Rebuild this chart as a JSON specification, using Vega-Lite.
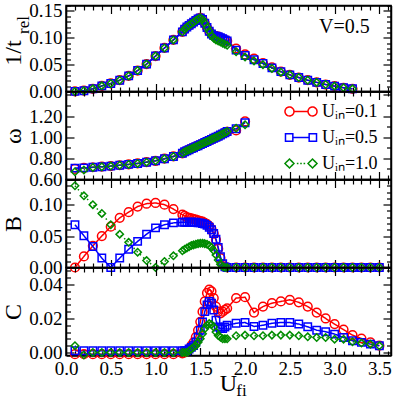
{
"$schema":"https://vega.github.io/schema/vega-lite/v6.json",
"padding":{"left":0,"top":0.5,"right":0,"bottom":20},
"spacing":0,
"bounds":"flush",
"resolve":{"legend":{"color":"independent"}},
"datasets":{"d":[
{"s":"0.1","x":0.1,"a":0.0002,"w":0.700,"b":0.000,"c":-0.001},
{"s":"0.1","x":0.2,"a":0.0015,"w":0.710,"b":0.0176,"c":-0.001},
{"s":"0.1","x":0.3,"a":0.005,"w":0.716,"b":0.0345,"c":-0.001},
{"s":"0.1","x":0.4,"a":0.0105,"w":0.721,"b":0.050,"c":-0.001},
{"s":"0.1","x":0.5,"a":0.015,"w":0.727,"b":0.065,"c":-0.001},
{"s":"0.1","x":0.6,"a":0.021,"w":0.735,"b":0.079,"c":-0.001},
{"s":"0.1","x":0.7,"a":0.029,"w":0.743,"b":0.088,"c":-0.001},
{"s":"0.1","x":0.8,"a":0.039,"w":0.752,"b":0.097,"c":-0.001},
{"s":"0.1","x":0.9,"a":0.051,"w":0.764,"b":0.1016,"c":-0.001},
{"s":"0.1","x":1.0,"a":0.066,"w":0.777,"b":0.1027,"c":-0.001},
{"s":"0.1","x":1.1,"a":0.081,"w":0.797,"b":0.100,"c":-0.001},
{"s":"0.1","x":1.2,"a":0.096,"w":0.818,"b":0.093,"c":-0.001},
{"s":"0.1","x":1.3,"a":0.111,"w":0.848,"b":0.084,"c":-0.0005},
{"s":"0.1","x":1.325,"a":0.116,"w":0.862,"b":0.082,"c":0.000},
{"s":"0.1","x":1.35,"a":0.120,"w":0.872,"b":0.080,"c":0.001},
{"s":"0.1","x":1.375,"a":0.123,"w":0.882,"b":0.079,"c":0.002},
{"s":"0.1","x":1.4,"a":0.126,"w":0.892,"b":0.078,"c":0.004},
{"s":"0.1","x":1.425,"a":0.129,"w":0.901,"b":0.077,"c":0.006},
{"s":"0.1","x":1.45,"a":0.132,"w":0.911,"b":0.076,"c":0.009},
{"s":"0.1","x":1.475,"a":0.135,"w":0.920,"b":0.075,"c":0.013},
{"s":"0.1","x":1.5,"a":0.137,"w":0.930,"b":0.074,"c":0.018},
{"s":"0.1","x":1.525,"a":0.134,"w":0.940,"b":0.073,"c":0.024},
{"s":"0.1","x":1.55,"a":0.127,"w":0.950,"b":0.071,"c":0.030},
{"s":"0.1","x":1.575,"a":0.119,"w":0.960,"b":0.069,"c":0.035},
{"s":"0.1","x":1.6,"a":0.112,"w":0.970,"b":0.066,"c":0.037},
{"s":"0.1","x":1.625,"a":0.107,"w":0.980,"b":0.061,"c":0.036},
{"s":"0.1","x":1.65,"a":0.104,"w":0.990,"b":0.054,"c":0.032},
{"s":"0.1","x":1.675,"a":0.103,"w":1.000,"b":0.044,"c":0.027},
{"s":"0.1","x":1.7,"a":0.102,"w":1.010,"b":0.030,"c":0.024},
{"s":"0.1","x":1.725,"a":0.100,"w":1.021,"b":0.015,"c":0.023},
{"s":"0.1","x":1.75,"a":0.098,"w":1.032,"b":0.005,"c":0.024},
{"s":"0.1","x":1.775,"a":0.096,"w":1.043,"b":0.001,"c":0.025},
{"s":"0.1","x":1.8,"a":0.094,"w":1.054,"b":0.000,"c":0.026},
{"s":"0.1","x":1.9,"a":0.080,"w":1.065,"b":0,"c":0.032},
{"s":"0.1","x":2.0,"a":0.069,"w":1.150,"b":0,"c":0.0325},
{"s":"0.1","x":2.1,"a":0.061,"w":null,"b":0,"c":0.0235},
{"s":"0.1","x":2.2,"a":0.053,"w":null,"b":0,"c":0.027},
{"s":"0.1","x":2.3,"a":0.045,"w":null,"b":0,"c":0.029},
{"s":"0.1","x":2.4,"a":0.037,"w":null,"b":0,"c":0.030},
{"s":"0.1","x":2.5,"a":0.031,"w":null,"b":0,"c":0.031},
{"s":"0.1","x":2.6,"a":0.026,"w":null,"b":0,"c":0.0295},
{"s":"0.1","x":2.7,"a":0.021,"w":null,"b":0,"c":0.027},
{"s":"0.1","x":2.8,"a":0.017,"w":null,"b":0,"c":0.0235},
{"s":"0.1","x":2.9,"a":0.013,"w":null,"b":0,"c":0.020},
{"s":"0.1","x":3.0,"a":0.010,"w":null,"b":0,"c":0.0167},
{"s":"0.1","x":3.1,"a":0.007,"w":null,"b":0,"c":0.0134},
{"s":"0.1","x":3.2,"a":0.005,"w":null,"b":0,"c":0.0102},
{"s":"0.1","x":3.3,"a":null,"w":null,"b":0,"c":0.0082},
{"s":"0.1","x":3.4,"a":null,"w":null,"b":0,"c":0.006},
{"s":"0.1","x":3.5,"a":null,"w":null,"b":0,"c":0.004},
{"s":"0.5","x":0.1,"a":0.0002,"w":0.708,"b":0.068,"c":0.001},
{"s":"0.5","x":0.2,"a":0.0015,"w":0.710,"b":0.0505,"c":0.001},
{"s":"0.5","x":0.3,"a":0.005,"w":0.716,"b":0.0335,"c":0.001},
{"s":"0.5","x":0.4,"a":0.0105,"w":0.721,"b":0.015,"c":0.001},
{"s":"0.5","x":0.5,"a":0.015,"w":0.727,"b":0.000,"c":0.001},
{"s":"0.5","x":0.6,"a":0.021,"w":0.735,"b":0.015,"c":0.001},
{"s":"0.5","x":0.7,"a":0.029,"w":0.743,"b":0.029,"c":0.001},
{"s":"0.5","x":0.8,"a":0.039,"w":0.752,"b":0.0415,"c":0.001},
{"s":"0.5","x":0.9,"a":0.051,"w":0.764,"b":0.053,"c":0.001},
{"s":"0.5","x":1.0,"a":0.066,"w":0.777,"b":0.063,"c":0.001},
{"s":"0.5","x":1.1,"a":0.081,"w":0.797,"b":0.068,"c":0.001},
{"s":"0.5","x":1.2,"a":0.096,"w":0.818,"b":0.071,"c":0.001},
{"s":"0.5","x":1.3,"a":0.111,"w":0.848,"b":0.072,"c":0.001},
{"s":"0.5","x":1.325,"a":0.116,"w":0.862,"b":0.072,"c":0.001},
{"s":"0.5","x":1.35,"a":0.120,"w":0.872,"b":0.072,"c":0.001},
{"s":"0.5","x":1.375,"a":0.123,"w":0.882,"b":0.072,"c":0.002},
{"s":"0.5","x":1.4,"a":0.126,"w":0.892,"b":0.072,"c":0.003},
{"s":"0.5","x":1.425,"a":0.129,"w":0.901,"b":0.072,"c":0.004},
{"s":"0.5","x":1.45,"a":0.132,"w":0.911,"b":0.072,"c":0.006},
{"s":"0.5","x":1.475,"a":0.135,"w":0.920,"b":0.071,"c":0.009},
{"s":"0.5","x":1.5,"a":0.137,"w":0.930,"b":0.071,"c":0.013},
{"s":"0.5","x":1.525,"a":0.134,"w":0.940,"b":0.070,"c":0.018},
{"s":"0.5","x":1.55,"a":0.127,"w":0.950,"b":0.069,"c":0.024},
{"s":"0.5","x":1.575,"a":0.119,"w":0.960,"b":0.067,"c":0.028},
{"s":"0.5","x":1.6,"a":0.112,"w":0.970,"b":0.064,"c":0.030},
{"s":"0.5","x":1.625,"a":0.107,"w":0.980,"b":0.060,"c":0.029},
{"s":"0.5","x":1.65,"a":0.104,"w":0.990,"b":0.054,"c":0.025},
{"s":"0.5","x":1.675,"a":0.103,"w":1.000,"b":0.045,"c":0.019},
{"s":"0.5","x":1.7,"a":0.102,"w":1.010,"b":0.032,"c":0.015},
{"s":"0.5","x":1.725,"a":0.100,"w":1.021,"b":0.017,"c":0.014},
{"s":"0.5","x":1.75,"a":0.098,"w":1.032,"b":0.006,"c":0.014},
{"s":"0.5","x":1.775,"a":0.096,"w":1.043,"b":0.001,"c":0.015},
{"s":"0.5","x":1.8,"a":0.094,"w":1.054,"b":0.000,"c":0.016},
{"s":"0.5","x":1.9,"a":0.077,"w":1.080,"b":0,"c":0.0172},
{"s":"0.5","x":2.0,"a":0.067,"w":1.137,"b":0,"c":0.0176},
{"s":"0.5","x":2.1,"a":0.059,"w":null,"b":0,"c":0.0153},
{"s":"0.5","x":2.2,"a":0.052,"w":null,"b":0,"c":0.016},
{"s":"0.5","x":2.3,"a":0.044,"w":null,"b":0,"c":0.0172},
{"s":"0.5","x":2.4,"a":0.037,"w":null,"b":0,"c":0.0176},
{"s":"0.5","x":2.5,"a":0.031,"w":null,"b":0,"c":0.0176},
{"s":"0.5","x":2.6,"a":0.026,"w":null,"b":0,"c":0.0167},
{"s":"0.5","x":2.7,"a":0.021,"w":null,"b":0,"c":0.0151},
{"s":"0.5","x":2.8,"a":0.017,"w":null,"b":0,"c":0.0131},
{"s":"0.5","x":2.9,"a":0.013,"w":null,"b":0,"c":0.0122},
{"s":"0.5","x":3.0,"a":0.010,"w":null,"b":0,"c":0.0108},
{"s":"0.5","x":3.1,"a":0.007,"w":null,"b":0,"c":0.0088},
{"s":"0.5","x":3.2,"a":0.005,"w":null,"b":0,"c":0.0069},
{"s":"0.5","x":3.3,"a":null,"w":null,"b":0,"c":0.0059},
{"s":"0.5","x":3.4,"a":null,"w":null,"b":0,"c":0.0049},
{"s":"0.5","x":3.5,"a":null,"w":null,"b":0,"c":0.0039},
{"s":"1.0","x":0.1,"a":0.0002,"w":0.673,"b":0.130,"c":0.004},
{"s":"1.0","x":0.2,"a":0.0015,"w":0.690,"b":0.114,"c":-0.0015},
{"s":"1.0","x":0.3,"a":0.005,"w":0.714,"b":0.100,"c":0},
{"s":"1.0","x":0.4,"a":0.0105,"w":0.721,"b":0.086,"c":0},
{"s":"1.0","x":0.5,"a":0.015,"w":0.727,"b":0.068,"c":0},
{"s":"1.0","x":0.6,"a":0.021,"w":0.735,"b":0.053,"c":0},
{"s":"1.0","x":0.7,"a":0.029,"w":0.743,"b":0.040,"c":0},
{"s":"1.0","x":0.8,"a":0.039,"w":0.752,"b":0.0244,"c":0},
{"s":"1.0","x":0.9,"a":0.051,"w":0.764,"b":0.011,"c":0},
{"s":"1.0","x":1.0,"a":0.066,"w":0.777,"b":0.000,"c":0},
{"s":"1.0","x":1.1,"a":0.081,"w":0.797,"b":0.0096,"c":0},
{"s":"1.0","x":1.2,"a":0.096,"w":0.818,"b":0.0186,"c":0},
{"s":"1.0","x":1.3,"a":0.111,"w":0.848,"b":0.0265,"c":0},
{"s":"1.0","x":1.325,"a":0.116,"w":0.862,"b":0.029,"c":0.000},
{"s":"1.0","x":1.35,"a":0.120,"w":0.872,"b":0.031,"c":0.000},
{"s":"1.0","x":1.375,"a":0.123,"w":0.882,"b":0.033,"c":0.001},
{"s":"1.0","x":1.4,"a":0.126,"w":0.892,"b":0.035,"c":0.002},
{"s":"1.0","x":1.425,"a":0.129,"w":0.901,"b":0.036,"c":0.003},
{"s":"1.0","x":1.45,"a":0.132,"w":0.911,"b":0.037,"c":0.004},
{"s":"1.0","x":1.475,"a":0.135,"w":0.920,"b":0.038,"c":0.006},
{"s":"1.0","x":1.5,"a":0.137,"w":0.930,"b":0.0385,"c":0.008},
{"s":"1.0","x":1.525,"a":0.134,"w":0.940,"b":0.0385,"c":0.011},
{"s":"1.0","x":1.55,"a":0.127,"w":0.950,"b":0.038,"c":0.014},
{"s":"1.0","x":1.575,"a":0.119,"w":0.960,"b":0.037,"c":0.016},
{"s":"1.0","x":1.6,"a":0.112,"w":0.970,"b":0.035,"c":0.017},
{"s":"1.0","x":1.625,"a":0.104,"w":0.980,"b":0.032,"c":0.0165},
{"s":"1.0","x":1.65,"a":0.099,"w":0.990,"b":0.027,"c":0.015},
{"s":"1.0","x":1.675,"a":0.096,"w":1.000,"b":0.020,"c":0.012},
{"s":"1.0","x":1.7,"a":0.094,"w":1.010,"b":0.012,"c":0.010},
{"s":"1.0","x":1.725,"a":0.092,"w":1.021,"b":0.005,"c":0.009},
{"s":"1.0","x":1.75,"a":0.090,"w":1.032,"b":0.0015,"c":0.008},
{"s":"1.0","x":1.775,"a":0.088,"w":1.043,"b":0.000,"c":0.008},
{"s":"1.0","x":1.8,"a":0.086,"w":1.054,"b":0.000,"c":0.008},
{"s":"1.0","x":1.9,"a":0.074,"w":1.085,"b":0,"c":0.0098},
{"s":"1.0","x":2.0,"a":0.064,"w":1.118,"b":0,"c":0.0102},
{"s":"1.0","x":2.1,"a":0.057,"w":null,"b":0,"c":0.0098},
{"s":"1.0","x":2.2,"a":0.050,"w":null,"b":0,"c":0.0098},
{"s":"1.0","x":2.3,"a":0.043,"w":null,"b":0,"c":0.0102},
{"s":"1.0","x":2.4,"a":0.036,"w":null,"b":0,"c":0.0102},
{"s":"1.0","x":2.5,"a":0.031,"w":null,"b":0,"c":0.0102},
{"s":"1.0","x":2.6,"a":0.026,"w":null,"b":0,"c":0.0098},
{"s":"1.0","x":2.7,"a":0.021,"w":null,"b":0,"c":0.0092},
{"s":"1.0","x":2.8,"a":0.017,"w":null,"b":0,"c":0.0088},
{"s":"1.0","x":2.9,"a":0.013,"w":null,"b":0,"c":0.0088},
{"s":"1.0","x":3.0,"a":0.010,"w":null,"b":0,"c":0.0078},
{"s":"1.0","x":3.1,"a":0.007,"w":null,"b":0,"c":0.0078},
{"s":"1.0","x":3.2,"a":0.005,"w":null,"b":0,"c":0.0063},
{"s":"1.0","x":3.3,"a":null,"w":null,"b":0,"c":0.0055},
{"s":"1.0","x":3.4,"a":null,"w":null,"b":0,"c":0.0049},
{"s":"1.0","x":3.5,"a":null,"w":null,"b":0,"c":0.0039}
]},
"vconcat":[
{
 "width":325,"height":86,
 "data":{"name":"d"},
 "resolve":{"axis":{"x":"independent","y":"independent"}},
 "layer":[
  {"transform":[{"filter":"isValid(datum.a)"}],
   "mark":{"type":"line","strokeWidth":1.5},
   "encoding":{
    "x":{"field":"x","type":"quantitative","scale":{"domain":[0,3.63],"nice":false,"zero":false},"axis":{"orient":"bottom","values":[0,0.5,1,1.5,2,2.5,3,3.5],"tickSize":-8,"labels":false,"title":null}},
    "y":{"field":"a","type":"quantitative","scale":{"domain":[0,0.16],"nice":false,"zero":false},"axis":{"orient":"left","values":[0,0.05,0.1,0.15],"tickSize":-8,"labelPadding":12,"format":".2f","title":"1/t","titleFontSize":24,"titleAngle":270,"titleX":-46,"titleY":47,"titleAlign":"center","titleBaseline":"alphabetic"}},
    "color":{"field":"s","type":"nominal","scale":{"domain":["0.1","0.5","1.0"],"range":["#ff0000","#0000ff","#008c00"]},"legend":null},
    "strokeDash":{"field":"s","type":"nominal","scale":{"domain":["0.1","0.5","1.0"],"range":[[1,0],[1,0],[1.5,3]]},"legend":null}
   }},
  {"transform":[{"filter":"isValid(datum.a)"}],
   "mark":{"type":"point","filled":false,"strokeWidth":1.5,"size":76,"opacity":1},
   "encoding":{
    "x":{"field":"x","type":"quantitative","scale":{"domain":[0,3.63],"nice":false,"zero":false},"axis":null},
    "y":{"field":"a","type":"quantitative","scale":{"domain":[0,0.16],"nice":false,"zero":false},"axis":null},
    "color":{"field":"s","type":"nominal","scale":{"domain":["0.1","0.5","1.0"],"range":["#ff0000","#0000ff","#008c00"]},"legend":null},
    "shape":{"field":"s","type":"nominal","scale":{"domain":["0.1","0.5","1.0"],"range":["circle","M-0.85,-0.85H0.85V0.85H-0.85Z","M0,-0.85L0.85,0L0,0.85L-0.85,0Z"]},"legend":null}
   }},
  {"transform":[{"filter":"isValid(datum.a)"}],
   "mark":{"type":"point","opacity":0},
   "encoding":{
    "x":{"field":"x","type":"quantitative","scale":{"domain":[0,3.63],"nice":false,"zero":false},"axis":{"orient":"top","values":[0,0.5,1,1.5,2,2.5,3,3.5],"tickSize":-8,"labels":false,"title":null}},
    "y":{"field":"a","type":"quantitative","scale":{"domain":[0,0.16],"nice":false,"zero":false},"axis":{"orient":"right","values":[0,0.05,0.1,0.15],"tickSize":-8,"labels":false,"title":null}}
   }},
  {"transform":[{"filter":"isValid(datum.a)"}],
   "mark":{"type":"point","opacity":0},
   "encoding":{
    "x":{"field":"x","type":"quantitative","scale":{"domain":[0,3.63],"nice":false,"zero":false},"axis":{"orient":"bottom","values":[0.1,0.2,0.3,0.4,0.6,0.7,0.8,0.9,1.1,1.2,1.3,1.4,1.6,1.7,1.8,1.9,2.1,2.2,2.3,2.4,2.6,2.7,2.8,2.9,3.1,3.2,3.3,3.4,3.6],"tickSize":-4.5,"labels":false,"domain":false,"title":null}},
    "y":{"field":"a","type":"quantitative","scale":{"domain":[0,0.16],"nice":false,"zero":false},"axis":{"orient":"left","values":[0.01,0.02,0.03,0.04,0.06,0.07,0.08,0.09,0.11,0.12,0.13,0.14,0.16],"tickSize":-4.5,"labels":false,"domain":false,"title":"rel","titleFontSize":17,"titleAngle":270,"titleX":-37.5,"titleY":19,"titleAlign":"center","titleBaseline":"alphabetic"}}
   }},
  {"transform":[{"filter":"isValid(datum.a)"}],
   "mark":{"type":"point","opacity":0},
   "encoding":{
    "x":{"field":"x","type":"quantitative","scale":{"domain":[0,3.63],"nice":false,"zero":false},"axis":{"orient":"top","values":[0.1,0.2,0.3,0.4,0.6,0.7,0.8,0.9,1.1,1.2,1.3,1.4,1.6,1.7,1.8,1.9,2.1,2.2,2.3,2.4,2.6,2.7,2.8,2.9,3.1,3.2,3.3,3.4,3.6],"tickSize":-4.5,"labels":false,"domain":false,"title":null}},
    "y":{"field":"a","type":"quantitative","scale":{"domain":[0,0.16],"nice":false,"zero":false},"axis":{"orient":"right","values":[0.01,0.02,0.03,0.04,0.06,0.07,0.08,0.09,0.11,0.12,0.13,0.14,0.16],"tickSize":-4.5,"labels":false,"domain":false,"title":null}}
   }},
  {"data":{"values":[{"t":"V=0.5"}]},
   "mark":{"type":"text","fontSize":20,"font":"Liberation Serif","align":"center","baseline":"alphabetic","color":"black"},
   "encoding":{
    "text":{"field":"t"},
    "x":{"datum":3.11,"type":"quantitative","scale":{"domain":[0,3.63],"nice":false,"zero":false},"axis":null},
    "y":{"datum":0.109,"type":"quantitative","scale":{"domain":[0,0.16],"nice":false,"zero":false},"axis":null}
   }}
 ]
},
{
 "width":325,"height":88,
 "data":{"name":"d"},
 "resolve":{"axis":{"x":"independent","y":"independent"}},
 "layer":[
  {"transform":[{"filter":"isValid(datum.w)"}],
   "mark":{"type":"line","strokeWidth":1.5},
   "encoding":{
    "x":{"field":"x","type":"quantitative","scale":{"domain":[0,3.63],"nice":false,"zero":false},"axis":{"orient":"bottom","values":[0,0.5,1,1.5,2,2.5,3,3.5],"tickSize":-8,"labels":false,"title":null}},
    "y":{"field":"w","type":"quantitative","scale":{"domain":[0.6,1.433],"nice":false,"zero":false},"axis":{"orient":"left","values":[0.6,0.8,1.0,1.2],"tickSize":-8,"labelPadding":12,"format":".2f","title":"ω","titleFontSize":24,"titleAngle":270,"titleX":-46,"titleY":44,"titleAlign":"center","titleBaseline":"alphabetic"}},
    "color":{"field":"s","type":"nominal","scale":{"domain":["0.1","0.5","1.0"],"range":["#ff0000","#0000ff","#008c00"]},
      "legend":{"orient":"none","legendX":218,"legendY":3,"title":null,"direction":"vertical",
        "labelExpr":"'Uᵢₙ=' + datum.label","labelFont":"Liberation Serif","labelFontSize":18,"labelColor":"black",
        "symbolSize":1024,"symbolStrokeWidth":1.5,"rowPadding":-9,"labelOffset":4,"padding":0,
        "encode":{"symbols":{"update":{"shape":{"signal":"datum.value === '0.1' ? 'M-1,0A0.28,0.28 0 1,0 -0.44,0A0.28,0.28 0 1,0 -1,0ZM-0.44,0L0.44,0M0.44,0A0.28,0.28 0 1,0 1,0A0.28,0.28 0 1,0 0.44,0Z' : datum.value === '0.5' ? 'M-0.97,-0.23H-0.51V0.23H-0.97ZM-0.51,0H0.51M0.51,-0.23H0.97V0.23H0.51Z' : 'M-1,0L-0.72,-0.28L-0.44,0L-0.72,0.28ZM0.44,0L0.72,-0.28L1,0L0.72,0.28ZM-0.26,0H-0.16M-0.05,0H0.05M0.16,0H0.26'"},"fill":{"value":"transparent"},"strokeDash":{"value":[1,0]}}}}}},
    "strokeDash":{"field":"s","type":"nominal","scale":{"domain":["0.1","0.5","1.0"],"range":[[1,0],[1,0],[1.5,3]]},"legend":null}
   }},
  {"transform":[{"filter":"isValid(datum.w)"}],
   "mark":{"type":"point","filled":false,"strokeWidth":1.5,"size":76,"opacity":1},
   "encoding":{
    "x":{"field":"x","type":"quantitative","scale":{"domain":[0,3.63],"nice":false,"zero":false},"axis":null},
    "y":{"field":"w","type":"quantitative","scale":{"domain":[0.6,1.433],"nice":false,"zero":false},"axis":null},
    "color":{"field":"s","type":"nominal","scale":{"domain":["0.1","0.5","1.0"],"range":["#ff0000","#0000ff","#008c00"]},"legend":null},
    "shape":{"field":"s","type":"nominal","scale":{"domain":["0.1","0.5","1.0"],"range":["circle","M-0.85,-0.85H0.85V0.85H-0.85Z","M0,-0.85L0.85,0L0,0.85L-0.85,0Z"]},"legend":null}
   }},
  {"transform":[{"filter":"isValid(datum.w)"}],
   "mark":{"type":"point","opacity":0},
   "encoding":{
    "x":{"field":"x","type":"quantitative","scale":{"domain":[0,3.63],"nice":false,"zero":false},"axis":{"orient":"top","values":[0,0.5,1,1.5,2,2.5,3,3.5],"tickSize":-8,"labels":false,"title":null}},
    "y":{"field":"w","type":"quantitative","scale":{"domain":[0.6,1.433],"nice":false,"zero":false},"axis":{"orient":"right","values":[0.6,0.8,1.0,1.2,1.4],"tickSize":-8,"labels":false,"title":null}}
   }},
  {"transform":[{"filter":"isValid(datum.w)"}],
   "mark":{"type":"point","opacity":0},
   "encoding":{
    "x":{"field":"x","type":"quantitative","scale":{"domain":[0,3.63],"nice":false,"zero":false},"axis":{"orient":"bottom","values":[0.1,0.2,0.3,0.4,0.6,0.7,0.8,0.9,1.1,1.2,1.3,1.4,1.6,1.7,1.8,1.9,2.1,2.2,2.3,2.4,2.6,2.7,2.8,2.9,3.1,3.2,3.3,3.4,3.6],"tickSize":-4.5,"labels":false,"domain":false,"title":null}},
    "y":{"field":"w","type":"quantitative","scale":{"domain":[0.6,1.433],"nice":false,"zero":false},"axis":{"orient":"left","values":[0.7,0.9,1.1,1.3,1.4],"tickSize":-4.5,"labels":false,"domain":false,"title":null}}
   }},
  {"transform":[{"filter":"isValid(datum.w)"}],
   "mark":{"type":"point","opacity":0},
   "encoding":{
    "x":{"field":"x","type":"quantitative","scale":{"domain":[0,3.63],"nice":false,"zero":false},"axis":{"orient":"top","values":[0.1,0.2,0.3,0.4,0.6,0.7,0.8,0.9,1.1,1.2,1.3,1.4,1.6,1.7,1.8,1.9,2.1,2.2,2.3,2.4,2.6,2.7,2.8,2.9,3.1,3.2,3.3,3.4,3.6],"tickSize":-4.5,"labels":false,"domain":false,"title":null}},
    "y":{"field":"w","type":"quantitative","scale":{"domain":[0.6,1.433],"nice":false,"zero":false},"axis":{"orient":"right","values":[0.7,0.9,1.1,1.3],"tickSize":-4.5,"labels":false,"domain":false,"title":null}}
   }}
 ]
},
{
 "width":325,"height":88,
 "data":{"name":"d"},
 "resolve":{"axis":{"x":"independent","y":"independent"}},
 "layer":[
  {"transform":[{"filter":"isValid(datum.b)"}],
   "mark":{"type":"line","strokeWidth":1.5},
   "encoding":{
    "x":{"field":"x","type":"quantitative","scale":{"domain":[0,3.63],"nice":false,"zero":false},"axis":{"orient":"bottom","values":[0,0.5,1,1.5,2,2.5,3,3.5],"tickSize":-8,"labels":false,"title":null}},
    "y":{"field":"b","type":"quantitative","scale":{"domain":[0,0.14],"nice":false,"zero":false},"axis":{"orient":"left","values":[0,0.05,0.1],"tickSize":-8,"labelPadding":12,"format":".2f","title":"B","titleFontSize":24,"titleAngle":270,"titleX":-46,"titleY":44,"titleAlign":"center","titleBaseline":"alphabetic"}},
    "color":{"field":"s","type":"nominal","scale":{"domain":["0.1","0.5","1.0"],"range":["#ff0000","#0000ff","#008c00"]},"legend":null},
    "strokeDash":{"field":"s","type":"nominal","scale":{"domain":["0.1","0.5","1.0"],"range":[[1,0],[1,0],[1.5,3]]},"legend":null}
   }},
  {"transform":[{"filter":"isValid(datum.b)"}],
   "mark":{"type":"point","filled":false,"strokeWidth":1.5,"size":76,"opacity":1},
   "encoding":{
    "x":{"field":"x","type":"quantitative","scale":{"domain":[0,3.63],"nice":false,"zero":false},"axis":null},
    "y":{"field":"b","type":"quantitative","scale":{"domain":[0,0.14],"nice":false,"zero":false},"axis":null},
    "color":{"field":"s","type":"nominal","scale":{"domain":["0.1","0.5","1.0"],"range":["#ff0000","#0000ff","#008c00"]},"legend":null},
    "shape":{"field":"s","type":"nominal","scale":{"domain":["0.1","0.5","1.0"],"range":["circle","M-0.85,-0.85H0.85V0.85H-0.85Z","M0,-0.85L0.85,0L0,0.85L-0.85,0Z"]},"legend":null}
   }},
  {"transform":[{"filter":"isValid(datum.b)"}],
   "mark":{"type":"point","opacity":0},
   "encoding":{
    "x":{"field":"x","type":"quantitative","scale":{"domain":[0,3.63],"nice":false,"zero":false},"axis":{"orient":"top","values":[0,0.5,1,1.5,2,2.5,3,3.5],"tickSize":-8,"labels":false,"title":null}},
    "y":{"field":"b","type":"quantitative","scale":{"domain":[0,0.14],"nice":false,"zero":false},"axis":{"orient":"right","values":[0,0.05,0.1],"tickSize":-8,"labels":false,"title":null}}
   }},
  {"transform":[{"filter":"isValid(datum.b)"}],
   "mark":{"type":"point","opacity":0},
   "encoding":{
    "x":{"field":"x","type":"quantitative","scale":{"domain":[0,3.63],"nice":false,"zero":false},"axis":{"orient":"bottom","values":[0.1,0.2,0.3,0.4,0.6,0.7,0.8,0.9,1.1,1.2,1.3,1.4,1.6,1.7,1.8,1.9,2.1,2.2,2.3,2.4,2.6,2.7,2.8,2.9,3.1,3.2,3.3,3.4,3.6],"tickSize":-4.5,"labels":false,"domain":false,"title":null}},
    "y":{"field":"b","type":"quantitative","scale":{"domain":[0,0.14],"nice":false,"zero":false},"axis":{"orient":"left","values":[0.01,0.02,0.03,0.04,0.06,0.07,0.08,0.09,0.11,0.12,0.13],"tickSize":-4.5,"labels":false,"domain":false,"title":null}}
   }},
  {"transform":[{"filter":"isValid(datum.b)"}],
   "mark":{"type":"point","opacity":0},
   "encoding":{
    "x":{"field":"x","type":"quantitative","scale":{"domain":[0,3.63],"nice":false,"zero":false},"axis":{"orient":"top","values":[0.1,0.2,0.3,0.4,0.6,0.7,0.8,0.9,1.1,1.2,1.3,1.4,1.6,1.7,1.8,1.9,2.1,2.2,2.3,2.4,2.6,2.7,2.8,2.9,3.1,3.2,3.3,3.4,3.6],"tickSize":-4.5,"labels":false,"domain":false,"title":null}},
    "y":{"field":"b","type":"quantitative","scale":{"domain":[0,0.14],"nice":false,"zero":false},"axis":{"orient":"right","values":[0.01,0.02,0.03,0.04,0.06,0.07,0.08,0.09,0.11,0.12,0.13],"tickSize":-4.5,"labels":false,"domain":false,"title":null}}
   }}
 ]
},
{
 "width":325,"height":88,
 "data":{"name":"d"},
 "resolve":{"axis":{"x":"independent","y":"independent"}},
 "layer":[
  {"transform":[{"filter":"isValid(datum.c)"}],
   "mark":{"type":"line","strokeWidth":1.5},
   "encoding":{
    "x":{"field":"x","type":"quantitative","scale":{"domain":[0,3.63],"nice":false,"zero":false},"axis":{"orient":"bottom","values":[0,0.5,1,1.5,2,2.5,3,3.5],"tickSize":-8,"labelPadding":12,"format":".1f","title":"U","titleFontSize":24,"titleX":162,"titleY":34.5,"titleAlign":"center","titleBaseline":"alphabetic","titleAngle":0}},
    "y":{"field":"c","type":"quantitative","scale":{"domain":[-0.0018,0.05],"nice":false,"zero":false},"axis":{"orient":"left","values":[0,0.02,0.04],"tickSize":-8,"labelPadding":12,"format":".2f","title":"C","titleFontSize":24,"titleAngle":270,"titleX":-46,"titleY":44,"titleAlign":"center","titleBaseline":"alphabetic"}},
    "color":{"field":"s","type":"nominal","scale":{"domain":["0.1","0.5","1.0"],"range":["#ff0000","#0000ff","#008c00"]},"legend":null},
    "strokeDash":{"field":"s","type":"nominal","scale":{"domain":["0.1","0.5","1.0"],"range":[[1,0],[1,0],[1.5,3]]},"legend":null}
   }},
  {"transform":[{"filter":"isValid(datum.c)"}],
   "mark":{"type":"point","filled":false,"strokeWidth":1.5,"size":76,"opacity":1},
   "encoding":{
    "x":{"field":"x","type":"quantitative","scale":{"domain":[0,3.63],"nice":false,"zero":false},"axis":null},
    "y":{"field":"c","type":"quantitative","scale":{"domain":[-0.0018,0.05],"nice":false,"zero":false},"axis":null},
    "color":{"field":"s","type":"nominal","scale":{"domain":["0.1","0.5","1.0"],"range":["#ff0000","#0000ff","#008c00"]},"legend":null},
    "shape":{"field":"s","type":"nominal","scale":{"domain":["0.1","0.5","1.0"],"range":["circle","M-0.85,-0.85H0.85V0.85H-0.85Z","M0,-0.85L0.85,0L0,0.85L-0.85,0Z"]},"legend":null}
   }},
  {"transform":[{"filter":"isValid(datum.c)"}],
   "mark":{"type":"point","opacity":0},
   "encoding":{
    "x":{"field":"x","type":"quantitative","scale":{"domain":[0,3.63],"nice":false,"zero":false},"axis":{"orient":"top","values":[0,0.5,1,1.5,2,2.5,3,3.5],"tickSize":-8,"labels":false,"title":null}},
    "y":{"field":"c","type":"quantitative","scale":{"domain":[-0.0018,0.05],"nice":false,"zero":false},"axis":{"orient":"right","values":[0,0.02,0.04],"tickSize":-8,"labels":false,"title":null}}
   }},
  {"transform":[{"filter":"isValid(datum.c)"}],
   "mark":{"type":"point","opacity":0},
   "encoding":{
    "x":{"field":"x","type":"quantitative","scale":{"domain":[0,3.63],"nice":false,"zero":false},"axis":{"orient":"bottom","values":[0.1,0.2,0.3,0.4,0.6,0.7,0.8,0.9,1.1,1.2,1.3,1.4,1.6,1.7,1.8,1.9,2.1,2.2,2.3,2.4,2.6,2.7,2.8,2.9,3.1,3.2,3.3,3.4,3.6],"tickSize":-4.5,"labels":false,"domain":false,"title":"fi","titleFontSize":17,"titleX":175,"titleY":39.5,"titleAlign":"center","titleBaseline":"alphabetic","titleAngle":0}},
    "y":{"field":"c","type":"quantitative","scale":{"domain":[-0.0018,0.05],"nice":false,"zero":false},"axis":{"orient":"left","values":[0.004,0.008,0.012,0.016,0.024,0.028,0.032,0.036,0.044,0.048],"tickSize":-4.5,"labels":false,"domain":false,"title":null}}
   }},
  {"transform":[{"filter":"isValid(datum.c)"}],
   "mark":{"type":"point","opacity":0},
   "encoding":{
    "x":{"field":"x","type":"quantitative","scale":{"domain":[0,3.63],"nice":false,"zero":false},"axis":{"orient":"top","values":[0.1,0.2,0.3,0.4,0.6,0.7,0.8,0.9,1.1,1.2,1.3,1.4,1.6,1.7,1.8,1.9,2.1,2.2,2.3,2.4,2.6,2.7,2.8,2.9,3.1,3.2,3.3,3.4,3.6],"tickSize":-4.5,"labels":false,"domain":false,"title":null}},
    "y":{"field":"c","type":"quantitative","scale":{"domain":[-0.0018,0.05],"nice":false,"zero":false},"axis":{"orient":"right","values":[0.004,0.008,0.012,0.016,0.024,0.028,0.032,0.036,0.044,0.048],"tickSize":-4.5,"labels":false,"domain":false,"title":null}}
   }}
 ]
}
],
"config":{
 "font":"Liberation Serif",
 "view":{"stroke":"black","strokeWidth":1.5},
 "axis":{"grid":false,"domainColor":"black","domainWidth":1.5,"tickColor":"black","tickWidth":1.2,"labelFont":"Liberation Serif","labelFontSize":19,"labelColor":"black","titleFont":"Liberation Serif","titleFontWeight":"normal","titleColor":"black","labelFlush":false,"labelOverlap":false}
}
}
